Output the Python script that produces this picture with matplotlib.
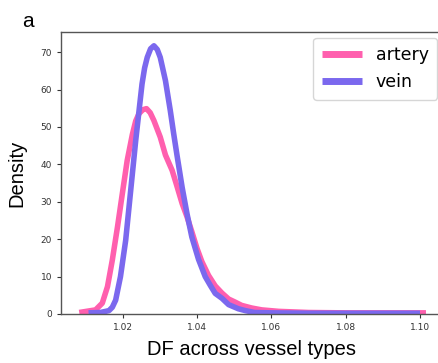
import matplotlib
matplotlib.use("Agg")
import matplotlib.pyplot as plt

# artery density curve
artery_x = [1.0083, 1.0127, 1.0145, 1.0159, 1.0172, 1.0186, 1.0199, 1.0212, 1.0226,
            1.0235, 1.0244, 1.0254, 1.0264, 1.0274, 1.0284, 1.0301, 1.0315, 1.0333,
            1.0345, 1.0360, 1.0373, 1.0386, 1.0400, 1.0413, 1.0431, 1.0449, 1.0467,
            1.0485, 1.0502, 1.0520, 1.0547, 1.0574, 1.0620, 1.0700, 1.0800, 1.0900,
            1.1016]
artery_y = [0.4, 1.1, 2.9, 7.3, 14.4, 23.3, 32.2, 41.0, 48.0,
            51.6, 53.6, 54.6, 54.9, 53.8, 51.7, 47.3, 42.5, 38.4,
            34.5, 29.5, 26.0, 22.0, 17.5, 14.0, 10.3, 7.5, 5.6,
            4.0, 3.2, 2.3, 1.6, 1.1, 0.7, 0.4, 0.3, 0.3,
            0.3]

# vein density curve
vein_x = [1.0108, 1.0140, 1.0163, 1.0172, 1.0181, 1.0194, 1.0208, 1.0217, 1.0226,
          1.0235, 1.0244, 1.0252, 1.0259, 1.0266, 1.0275, 1.0284, 1.0293, 1.0301,
          1.0315, 1.0328, 1.0337, 1.0346, 1.0360, 1.0373, 1.0386, 1.0404, 1.0422,
          1.0436, 1.0449, 1.0467, 1.0485, 1.0511, 1.0530, 1.0555, 1.0600, 1.0700,
          1.0800, 1.0900, 1.1000]
vein_y = [0.3, 0.4, 0.9, 1.8, 3.7, 10.0, 19.7, 28.6, 37.5,
          46.4, 54.4, 61.5, 65.8, 68.6, 70.9, 71.7, 70.7, 68.6,
          62.4, 54.4, 48.3, 42.5, 33.8, 26.8, 20.6, 14.6, 10.0,
          7.6, 5.5, 4.2, 2.5, 1.4, 0.9, 0.4, 0.3, 0.2,
          0.2, 0.2, 0.2]

labels = ["artery", "vein"]
colors = ["#ff5fae", "#7b68ee"]

fig = plt.figure(figsize=(4.39, 3.63), dpi=100)
ax = fig.add_axes([0.139, 0.135, 0.866, 0.777])

ax.plot(artery_x, artery_y, color=colors[0], lw=4, label=labels[0],
        solid_capstyle="butt", solid_joinstyle="round")
ax.plot(vein_x, vein_y, color=colors[1], lw=4, label=labels[1],
        solid_capstyle="butt", solid_joinstyle="round")

ax.set_xlim(1.0034, 1.1057)
ax.set_ylim(0, 75.4)
ax.set_xticks([1.02, 1.04, 1.06, 1.08, 1.10])
ax.set_yticks(range(0, 71, 10))
ax.tick_params(labelsize=6.5, labelcolor="#333333", length=3, width=0.8, color="#333333")
for s in ax.spines.values():
    s.set_color("#555555")
    s.set_linewidth(1.0)

ax.set_xlabel("DF across vessel types", fontsize=14.5, family="Liberation Sans", labelpad=6)
ax.set_ylabel("Density", fontsize=14.5, family="Liberation Sans", labelpad=10)

leg = ax.legend(loc="upper right", fontsize=12.5, handlelength=2.3, borderpad=0.5,
                labelspacing=0.5, handletextpad=0.8, framealpha=0.8,
                borderaxespad=0, bbox_to_anchor=(0.99, 0.98))
for h in leg.get_lines():
    h.set_linewidth(5)

fig.text(0.064, 0.94, "a", fontsize=15, family="Liberation Sans", ha="center", va="center")

fig.savefig("out.png", dpi=100)
